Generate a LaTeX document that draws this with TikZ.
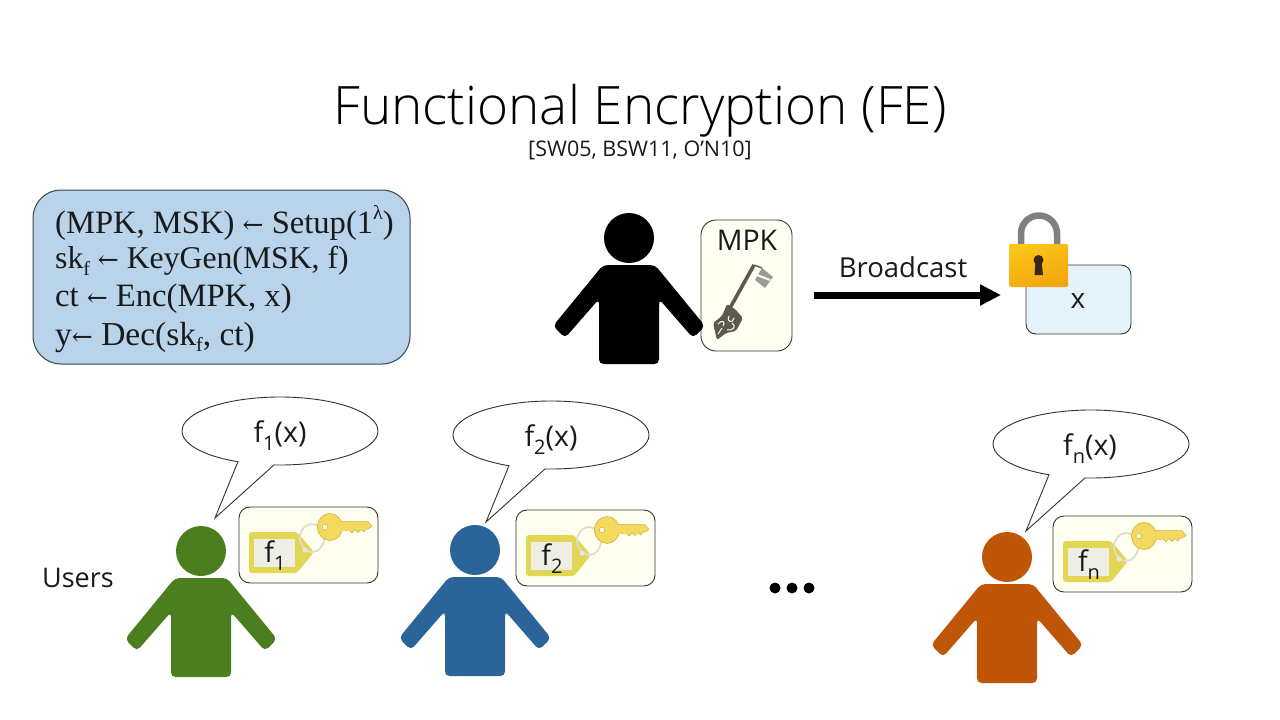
\documentclass[tikz,border=0pt]{standalone}
\usepackage{fontspec}
\setmainfont{Open Sans}
\newfontfamily\titlefont{Open Sans Light}
\newfontfamily\mathserif{Liberation Serif}
\newfontfamily\arrowfont{DejaVu Serif}
\usetikzlibrary{arrows.meta,shapes.geometric}
\definecolor{pgreen}{HTML}{4A7E1E}
\definecolor{pblue}{HTML}{2A6498}
\definecolor{porange}{HTML}{BE5507}
\definecolor{boxblue}{HTML}{B9D3EA}
\definecolor{boxedge}{HTML}{37444F}
\definecolor{ivory}{HTML}{FEFEF1}
\definecolor{tagyel}{HTML}{E2D654}
\definecolor{tagin}{HTML}{EEEEE4}
\definecolor{keyyel}{HTML}{F5D95F}
\definecolor{keyedge}{HTML}{D2B23C}
\definecolor{ringc}{HTML}{DDDDD0}
\definecolor{ptext}{HTML}{1A1A1A}
\definecolor{xfill}{HTML}{E4F3FA}
\definecolor{lockgold}{HTML}{FBC51A}
\definecolor{lockdeep}{HTML}{F2A60E}
\definecolor{ironc}{HTML}{5A5A50}
\newcommand{\fs}[1]{\fontsize{#1}{#1}\selectfont}
\newcommand{\sbs}[1]{\raisebox{-0.28em}{\fontsize{20}{20}\selectfont #1}}
\tikzset{
  headdisc/.style={circle,inner sep=0pt,minimum size=50pt,fill=#1,draw=none},
  bubble/.style={draw=black!80,line width=0.9pt,fill=white},
  bubbletext/.style={font=\fs{28.5},text=ptext,inner sep=0pt},
  cardbox/.style={draw=black!80,line width=0.9pt,fill=ivory,rounded corners=11pt},
  tagtext/.style={font=\fs{28.5},text=ptext,inner sep=0pt},
  algline/.style={anchor=west,inner sep=0pt,font=\mathserif\fs{#1},text=ptext},
  dotmark/.style={circle,fill=black,minimum size=11pt,inner sep=0pt},
  person/.pic={
    \node[headdisc=#1] (-head) at (0,0) {};
    \fill[#1,rounded corners=4.5pt] (-26,27) -- (26,27) -- (76,88) -- (64,100) -- (30,61)
      -- (30,126) -- (-30,126) -- (-30,61) -- (-64,100) -- (-76,88) -- cycle;
  },
  speech/.pic={
    \draw[bubble] (0,0) ellipse (98 and 34);
    \coordinate (-a) at (115.4:98 and 34);
    \coordinate (-b) at (93.5:98 and 34);
    \coordinate (-tip) at (-65,87);
    \fill[white] (-a) -- (-tip) -- (-b) -- (0,20) -- cycle;
    \draw[black!80,line width=0.9pt,line join=miter] (-a) -- (-tip) -- (-b);
  },
  keycard/.pic={
    \draw[cardbox] (0,0) rectangle (139,76);
    % tag
    \fill[tagyel,rounded corners=3pt] (10,25) -- (58,25) -- (75,45) -- (58,66) -- (10,66) -- cycle;
    \fill[tagin] (15,32) rectangle (56,60);
    % ring
    \draw[ringc,line width=1.8pt] (73,31) ellipse (12 and 14);
    \fill[white!90!black] (66,43) circle (2.6);
    % key blade
    \fill[keyyel,draw=keyedge,line width=.5pt] (100,14.7) -- (129,14.7) -- (133,19.5) -- (129,22)
      -- (127,22) -- (125,25) -- (122,22.5) -- (119,25.5) -- (116,22.5) -- (113,26) -- (110,23)
      -- (100,24) -- cycle;
    % key head
    \fill[keyyel,draw=keyedge,line width=.6pt] (91,20) ellipse (12.5 and 13.5);
    \fill[keyyel] (98,15.2) rectangle (106,23.5);
    \fill[ivory,draw=keyedge,line width=.5pt] (86,20) circle (2.8);
  }
}
\begin{document}
\begin{tikzpicture}[x=1pt,y=-1pt]
\useasboundingbox (0,0) rectangle (1280,720);
\fill[white] (0,0) rectangle (1280,720);

% title
\node[font=\titlefont\fs{53},text=black,inner sep=0pt] (title) at (640,110.5) {Functional Encryption (FE)};
\node[font=\fs{21.5},text=ptext,inner sep=0pt] (refs) at (640,150) {[SW05, BSW11, O’N10]};

% algorithm box
\node[draw=boxedge,fill=boxblue,line width=1pt,rounded corners=28pt,minimum width=377pt,minimum height=174pt,inner sep=0pt] (algbox) at (221.5,277) {};
\node[algline=32.6] (l1) at (55,223) {(MPK, MSK) {\arrowfont\fs{25}←} Setup(1\raisebox{.42em}{\fs{20}λ})};
\node[algline=31.7] (l2) at (55,261) {sk\raisebox{-.2em}{\fs{20}f} {\arrowfont\fs{25}←} KeyGen(MSK, f)};
\node[algline=32.6] (l3) at (55,299) {ct {\arrowfont\fs{25}←} Enc(MPK, x)};
\node[algline=33.5] (l4) at (55,337) {y{\arrowfont\fs{25}←} Dec(sk\raisebox{-.2em}{\fs{20}f}, ct)};

% sender
\node[draw=black!80,line width=0.9pt,fill=ivory,rounded corners=15pt,minimum width=91pt,minimum height=131pt,inner sep=0pt] (mpkcard) at (746.5,285.5) {};
\pic (sender) at (629,238) {person=black};
\node[font=\fs{28.5},text=ptext,inner sep=0pt] (mpk) at (747,240) {MPK};
% skeleton key
\draw[ironc,line width=3.6pt] (730,308) -- (754,265);
\fill[ironc!60!white] (762,268) -- (773,277) -- (765,288) -- (755,280) -- cycle;
\draw[ivory,line width=2pt] (757,275) -- (770,280);
\draw[ironc,line width=1.4pt] (754,265) -- (762,268);
\fill[ironc,rounded corners=2pt] (727,304) -- (735,309) -- (743,318) -- (736,331) -- (726,333) -- (717,340) -- (713,323) -- (722,316) -- cycle;
\draw[ivory,line width=1pt] (718,324) .. controls (722,319) and (726,322) .. (723,326);
\draw[ivory,line width=1pt] (729,316) .. controls (726,322) and (733,324) .. (734,318);
\draw[ivory,line width=1pt] (727,330) .. controls (733,331) and (737,326) .. (732,323);
\draw[ivory,line width=.9pt] (718,334) -- (722,328);

% broadcast
\node[font=\fs{27.5},text=ptext,inner sep=0pt] (bc) at (903,267) {Broadcast};
\coordinate (bstart) at (814,295);
\coordinate (bend) at (1001,295);
\draw[line width=7pt,-{Triangle[length=21pt,width=20pt]}] (bstart) -- (bend);

% locked box
\node[draw=black!80,line width=0.9pt,fill=xfill,rounded corners=10pt,minimum width=105pt,minimum height=69pt,inner sep=0pt] (xbox) at (1078.5,299.5) {};
\node[font=\fs{28},text=ptext,inner sep=0pt] (xlab) at (1078,301) {x};
\draw[black!50,line width=6.5pt] (1021,246) -- (1021,233.5) arc (180:360:18) -- (1057,246);
\shade[left color=lockgold,right color=lockdeep,shading angle=20,rounded corners=1.5pt] (1009,244) rectangle (1068,287);
\fill[black!70!brown] (1038.5,260) circle (5);
\fill[black!70!brown] (1035.5,261) -- (1041.5,261) -- (1043,275) -- (1034.5,275) -- cycle;

% users
\node[font=\fs{27},text=ptext,inner sep=0pt] (users) at (78,578) {Users};

\pic (u1) at (201,551) {person=pgreen};
\pic (s1) at (280,431) {speech};
\node[bubbletext] (t1) at (280,436) {f\sbs{1}(x)};
\pic (k1) at (239,507) {keycard};
\node[tagtext] (g1) at (275,556) {f\sbs{1}};

\pic (u2) at (475,550) {person=pblue};
\pic (s2) at (551,435) {speech};
\node[bubbletext] (t2) at (551,440) {f\sbs{2}(x)};
\pic (k2) at (516,510) {keycard};
\node[tagtext] (g2) at (552,559) {f\sbs{2}};

\node[dotmark] (d1) at (775,588) {};
\node[dotmark] (d2) at (792,588) {};
\node[dotmark] (d3) at (809,588) {};

\pic (u3) at (1007,557) {person=porange};
\pic (s3) at (1091,444) {speech};
\node[bubbletext] (t3) at (1090,449) {f\sbs{n}(x)};
\pic (k3) at (1053,516) {keycard};
\node[tagtext] (g3) at (1089,565) {f\sbs{n}};
\end{tikzpicture}
\end{document}
